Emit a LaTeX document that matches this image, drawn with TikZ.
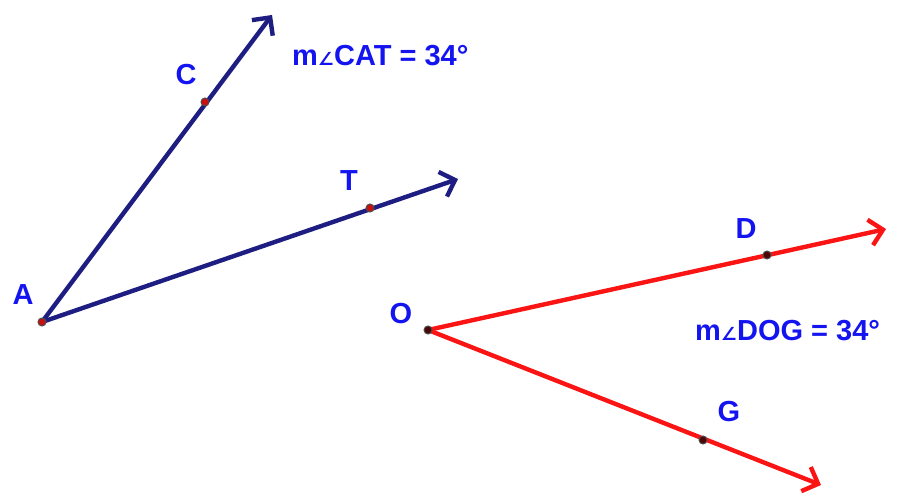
\documentclass[tikz,border=0pt]{standalone}
\usepackage{fontspec}
\setmainfont{Liberation Sans}
\newfontfamily\symfont{DejaVu Sans}
\usetikzlibrary{arrows.meta}
\definecolor{navy}{RGB}{30,30,130}
\definecolor{lblue}{RGB}{20,20,240}
\definecolor{rred}{RGB}{250,20,20}
\tikzset{
  ray/.style={line width=4.4pt, line cap=round, -{Straight Barb[length=13pt,width=26pt,line width=4.4pt]}},
  lbl/.style={text=lblue, font=\fontsize{29}{34}\selectfont\bfseries, inner sep=0pt},
  meas/.style={text=lblue, font=\fontsize{29}{34}\selectfont\bfseries, inner sep=0pt},
  pt/.style={circle, inner sep=0pt, minimum size=8pt, line width=1pt},
}
\begin{document}
\begin{tikzpicture}[x=1pt,y=-1pt]
\useasboundingbox (0,0) rectangle (901,497);
% blue angle
\coordinate (A) at (42,322);
\coordinate (Ctip) at (272,15);
\coordinate (Ttip) at (458,179);
\draw[ray, navy] (A) -- (Ctip);
\draw[ray, navy] (A) -- (Ttip);
\node[pt, fill=rred!80!black, draw=black!70] (Cp) at (205,102) {};
\node[pt, fill=rred!80!black, draw=black!70] (Tp) at (370,208) {};
\node[pt, fill=rred!80!black, draw=black!70] (Ap) at (A) {};
% red angle
\coordinate (O) at (428,330);
\coordinate (Dtip) at (886,229);
\coordinate (Gtip) at (821,485);
\draw[ray, rred] (O) -- (Dtip);
\draw[ray, rred] (O) -- (Gtip);
\node[pt, fill=black!70!rred, draw=black!70] (Dp) at (767,255) {};
\node[pt, fill=black!70!rred, draw=black!70] (Gp) at (703,440) {};
\node[pt, fill=black!70!rred, draw=black!70] (Op) at (O) {};
% labels
\node[lbl] (lC) at (186,75) {C};
\node[lbl] (lT) at (349,181) {T};
\node[lbl] (lA) at (23,295) {A};
\node[lbl] (lO) at (401,314) {O};
\node[lbl] (lD) at (746,229) {D};
\node[lbl] (lG) at (729,412) {G};
\node[meas, anchor=west] (mCAT) at (292,56) {m{\symfont\fontsize{18}{20}\selectfont ∠}CAT = 34°};
\node[meas, anchor=west] (mDOG) at (695,331) {m{\symfont\fontsize{18}{20}\selectfont ∠}DOG = 34°};
\end{tikzpicture}
\end{document}
